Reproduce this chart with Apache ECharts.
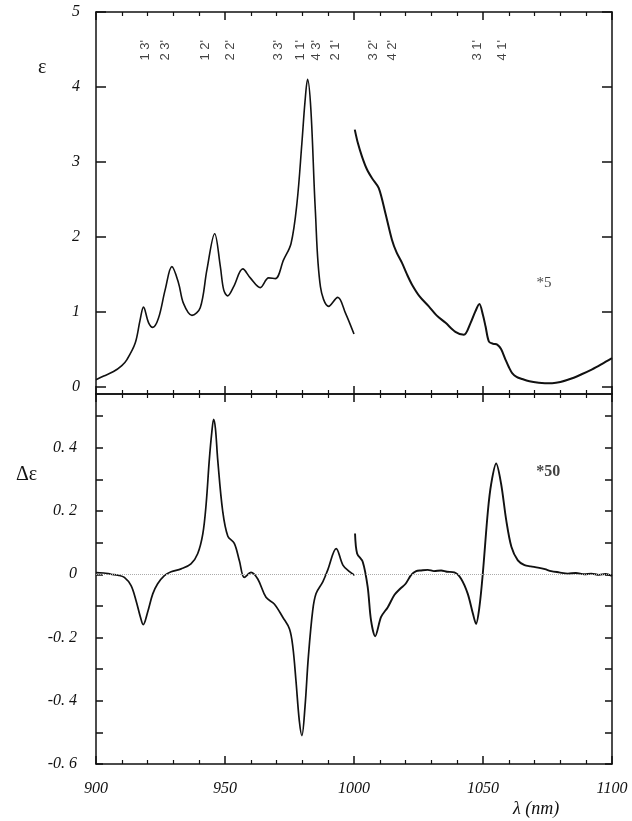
<!DOCTYPE html>
<html>
<head>
<meta charset="utf-8">
<script src="https://cdn.jsdelivr.net/npm/echarts@6/dist/echarts.min.js"></script>
<style>
html,body{margin:0;padding:0;background:#fff;}
#chart{width:632px;height:821px;}
</style>
</head>
<body>
<div id="chart"></div>
<script>
// ---------- data ----------
// Absorption (epsilon), 900-1000 nm
const epsNmA = [900, 903, 906.8, 910, 912, 915.2, 917.1, 918.4, 920.4, 922, 924.2, 926.8, 929.4, 932, 933.9, 937.2, 940.4, 943, 946, 948.2, 949.5, 951, 953.3, 956.9, 959.8, 963.7, 966.9, 969.5, 972.7, 975.6, 977.9, 979.8, 981, 982, 983.3, 985, 987, 990.2, 993.7, 996.7, 1000];
const epsValA = [0.09, 0.14, 0.2, 0.28, 0.36, 0.58, 0.89, 1.06, 0.85, 0.79, 0.91, 1.29, 1.6, 1.38, 1.11, 0.95, 1.05, 1.56, 2.04, 1.6, 1.29, 1.21, 1.33, 1.57, 1.45, 1.32, 1.45, 1.44, 1.69, 1.91, 2.45, 3.25, 3.8, 4.1, 3.69, 2.36, 1.33, 1.07, 1.19, 0.98, 0.70];
// Absorption (epsilon x5), 1000-1100 nm
const epsNmB = [1000.3, 1001.5, 1003.1, 1005, 1007, 1009.6, 1012.2, 1014.7, 1016.5, 1018.6, 1020.5, 1022.5, 1025.5, 1029, 1032, 1035.5, 1039.3, 1042.6, 1045.2, 1047, 1048.6, 1050, 1051, 1052.3, 1054, 1055.5, 1057, 1058.7, 1060, 1061.3, 1063, 1065.2, 1068, 1071.6, 1074, 1076.8, 1080, 1084.6, 1088, 1092.3, 1096, 1100];
const epsValB = [3.43, 3.25, 3.07, 2.9, 2.78, 2.65, 2.31, 1.96, 1.79, 1.65, 1.5, 1.36, 1.2, 1.07, 0.95, 0.85, 0.73, 0.69, 0.85, 1.0, 1.10, 0.95, 0.80, 0.60, 0.57, 0.56, 0.5, 0.36, 0.26, 0.18, 0.13, 0.1, 0.07, 0.05, 0.045, 0.045, 0.06, 0.11, 0.16, 0.23, 0.3, 0.38];
// Circular dichroism (delta epsilon), 900-1000 nm
const deNmA = [900, 903, 905.8, 908.5, 911, 913.6, 915.5, 917.2, 918.3, 920, 922, 923.9, 926.5, 929.1, 933, 936.8, 939.4, 941.4, 942.7, 943.9, 944.9, 945.6, 946.3, 947.2, 949.1, 951.1, 953.6, 955.6, 957.5, 960.1, 962.7, 965.9, 969.1, 972.4, 975, 976.3, 977.5, 978.8, 979.8, 981, 982.3, 984, 985.3, 987.9, 989.8, 993.1, 995.7, 998, 1000.2];
const deValA = [0.005, 0.004, 0.0, -0.003, -0.01, -0.036, -0.083, -0.135, -0.159, -0.12, -0.062, -0.03, -0.004, 0.008, 0.017, 0.033, 0.065, 0.128, 0.223, 0.36, 0.45, 0.49, 0.46, 0.36, 0.2, 0.12, 0.098, 0.042, -0.01, 0.006, -0.015, -0.073, -0.094, -0.136, -0.173, -0.23, -0.336, -0.463, -0.51, -0.42, -0.262, -0.114, -0.061, -0.024, 0.013, 0.081, 0.029, 0.01, -0.003];
// Circular dichroism (delta epsilon x50), 1000-1100 nm
const deNmB = [1000.4, 1001.2, 1003.4, 1005.3, 1006.6, 1008.2, 1010.5, 1013.1, 1015.7, 1018, 1020, 1022.1, 1024.1, 1026, 1028.6, 1031, 1033.8, 1036, 1038.9, 1041.5, 1044.1, 1046.1, 1047.3, 1048.6, 1049.9, 1051.9, 1053.2, 1055.1, 1057, 1059, 1061, 1063.5, 1066.1, 1068.5, 1071.3, 1074, 1076.4, 1079.5, 1082.9, 1086, 1089.3, 1092, 1095, 1097.5, 1100];
const deValB = [0.129, 0.066, 0.039, -0.04, -0.146, -0.196, -0.135, -0.104, -0.065, -0.045, -0.03, -0.003, 0.01, 0.012, 0.014, 0.01, 0.012, 0.008, 0.006, -0.014, -0.062, -0.125, -0.157, -0.104, 0.0, 0.2, 0.287, 0.35, 0.287, 0.171, 0.087, 0.044, 0.029, 0.025, 0.021, 0.016, 0.01, 0.006, 0.002, 0.004, 0.0, 0.002, -0.002, 0.001, -0.005];
// transition labels
const bandLabels = ["1 3'", "2 3'", "1 2'", "2 2'", "3 3'", "1 1'", "4 3'", "2 1'", "3 2'", "4 2'", "3 1'", "4 1'"];
const bandNm = [919.1, 926.8, 942.4, 952.1, 970.8, 979.2, 985.6, 992.8, 1007.6, 1014.7, 1047.7, 1057.4];
const bandY = 4.49;
// tick values
const xTicks = [900, 950, 1000, 1050, 1100];
const epsTicks = [0, 1, 2, 3, 4, 5];
const deLabelTicks = [-0.6, -0.4, -0.2, 0, 0.2, 0.4];
const deTicks = [-0.6, -0.5, -0.4, -0.3, -0.2, -0.1, 0, 0.1, 0.2, 0.3, 0.4, 0.5];
// scale notes
const scaleNotes = [{text: '*5', nm: 1073.6, v: 1.38, grid: 0}, {text: '*50', nm: 1075.3, v: 0.325, grid: 1}];

// ---------- chart ----------
const pair = (xs, ys) => xs.map((x, i) => [x, ys[i]]);
const INK = '#111';
const serif = 'Liberation Serif';

function xAxisDef(grid, pos, showLabel) {
  return {
    type: 'value', gridIndex: grid, position: pos, min: 900, max: 1100, interval: 50,
    axisLine: {show: true, onZero: false, lineStyle: {color: INK, width: 1.5}},
    axisTick: {show: true, inside: true, length: 8, lineStyle: {color: INK, width: 1.5}},
    minorTick: {show: true, splitNumber: 5, length: 4, lineStyle: {color: INK, width: 1.2}},
    splitLine: {show: false}, minorSplitLine: {show: false},
    axisLabel: {show: showLabel, margin: 17, color: INK, fontFamily: serif, fontStyle: 'italic', fontSize: 16,
      customValues: xTicks, formatter: v => String(Math.round(v))}
  };
}
function yAxisDef(grid, pos, min, max, ticks, labels, tickLen, showLabel, fmt, margin) {
  return {
    type: 'value', gridIndex: grid, position: pos, min: min, max: max,
    axisLine: {show: true, onZero: false, lineStyle: {color: INK, width: 1.5}},
    axisTick: {show: true, inside: true, length: tickLen, customValues: ticks, lineStyle: {color: INK, width: 1.5}},
    splitLine: {show: false},
    axisLabel: {show: showLabel, margin: margin, color: INK, fontFamily: serif, fontStyle: 'italic',
      fontSize: 16, customValues: labels, formatter: fmt}
  };
}
const deFmt = v => {
  const r = Math.round(v * 10) / 10;
  return r === 0 ? '0' : r.toFixed(1).replace('.', '. ');
};
const epsFmt = v => String(Math.round(v));

const chart = echarts.init(document.getElementById('chart'), null, {renderer: 'canvas'});
const lineStyle = w => ({color: INK, width: w});
chart.setOption({
  animation: false,
  backgroundColor: '#fff',
  grid: [
    {left: 96, right: 20, top: 12, height: 382},
    {left: 96, right: 20, top: 394, height: 370}
  ],
  xAxis: [
    xAxisDef(0, 'top', false),
    xAxisDef(0, 'bottom', false),
    xAxisDef(1, 'top', false),
    xAxisDef(1, 'bottom', true)
  ],
  yAxis: [
    yAxisDef(0, 'left', -0.1, 5, epsTicks, epsTicks, 10, true, epsFmt, 16),
    yAxisDef(0, 'right', -0.1, 5, epsTicks, epsTicks, 10, false, epsFmt, 8),
    yAxisDef(1, 'left', -0.6, 0.57, deTicks, deLabelTicks, 7, true, deFmt, 19),
    yAxisDef(1, 'right', -0.6, 0.57, deTicks, deLabelTicks, 7, false, deFmt, 8)
  ],
  series: [
    {type: 'line', xAxisIndex: 1, yAxisIndex: 0, data: pair(epsNmA, epsValA), showSymbol: false, smooth: 0.35,
      lineStyle: lineStyle(1.6), silent: true},
    {type: 'line', xAxisIndex: 1, yAxisIndex: 0, data: pair(epsNmB, epsValB), showSymbol: false, smooth: 0.3,
      lineStyle: lineStyle(2), silent: true},
    {type: 'line', xAxisIndex: 3, yAxisIndex: 2, data: pair(deNmA, deValA), showSymbol: false, smooth: 0.35,
      lineStyle: lineStyle(1.7), silent: true,
      markLine: {silent: true, symbol: 'none', label: {show: false},
        lineStyle: {type: 'dotted', color: '#aaa', width: 1}, data: [{yAxis: 0}]}},
    {type: 'line', xAxisIndex: 3, yAxisIndex: 2, data: pair(deNmB, deValB), showSymbol: false, smooth: 0.3,
      lineStyle: lineStyle(1.9), silent: true},
    {type: 'scatter', xAxisIndex: 1, yAxisIndex: 0, silent: true, symbolSize: 0,
      data: bandNm.map(x => [x, bandY]),
      label: {show: true, position: 'inside', rotate: 90, color: INK, fontFamily: 'Liberation Sans', fontSize: 13,
        formatter: p => bandLabels[p.dataIndex]}},
    {type: 'scatter', xAxisIndex: 1, yAxisIndex: 0, silent: true, symbolSize: 0,
      data: scaleNotes.filter(n => n.grid === 0).map(n => [n.nm, n.v]),
      label: {show: true, position: 'inside', color: INK, fontFamily: serif, fontSize: 15,
        formatter: () => scaleNotes[0].text}},
    {type: 'scatter', xAxisIndex: 3, yAxisIndex: 2, silent: true, symbolSize: 0,
      data: scaleNotes.filter(n => n.grid === 1).map(n => [n.nm, n.v]),
      label: {show: true, position: 'inside', color: INK, fontFamily: serif, fontSize: 16, fontWeight: 'bold',
        formatter: () => scaleNotes[1].text}}
  ],
  graphic: [
    {type: 'text', left: 38, top: 58, style: {text: 'ε', font: '20px "Liberation Serif"', fill: INK}},
    {type: 'text', left: 16, top: 465, style: {text: 'Δε', font: '20px "Liberation Serif"', fill: INK}},
    {type: 'text', left: 513, top: 800, style: {text: 'λ (nm)', font: 'italic 18px "Liberation Serif"', fill: INK}}
  ]
});
</script>
</body>
</html>
